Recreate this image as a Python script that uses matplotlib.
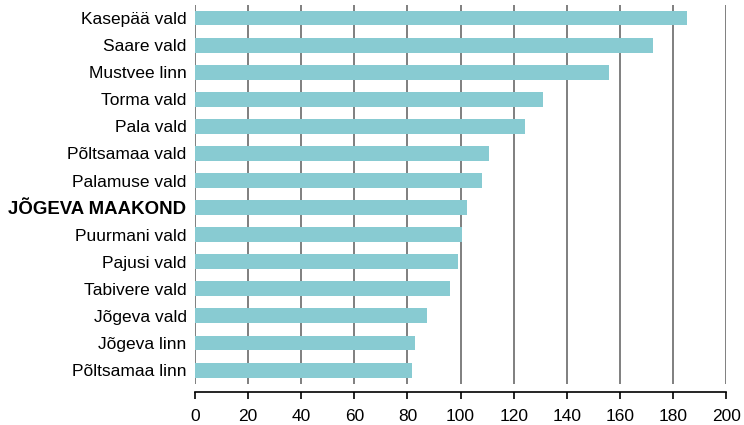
import matplotlib
matplotlib.use("Agg")
import matplotlib.pyplot as plt
import numpy as np

plt.rcParams['font.family'] = ['Liberation Sans', 'DejaVu Sans']

# data, top to bottom as in the chart
names = ["Kasepää vald", "Saare vald", "Mustvee linn", "Torma vald", "Pala vald",
         "Põltsamaa vald", "Palamuse vald", "JÕGEVA MAAKOND", "Puurmani vald",
         "Pajusi vald", "Tabivere vald", "Jõgeva vald", "Jõgeva linn", "Põltsamaa linn"]
values = [185.3, 172.6, 156.0, 131.2, 124.1, 110.9, 108.2, 102.6, 100.4,
          99.2, 96.2, 87.2, 82.7, 81.9]
xticks = list(range(0, 201, 20))

fig = plt.figure(figsize=(7.44, 4.25), dpi=100)
ax = fig.add_axes([0.262, 0.0776, 0.714, 0.9106])

y = np.arange(len(names))
ax.barh(y, values, height=0.55, color="#88CBD2", zorder=3)

ax.set_ylim(len(names) - 1 + 0.81, -0.48)
ax.set_xlim(0, 200)

# vertical grid lines, stopping a bit above the axis line
ax.vlines(xticks, -0.48, len(names) - 1 + 0.52, color="#6a6a6a", linewidth=1.2, zorder=1)

for s in ["top", "right", "left"]:
    ax.spines[s].set_visible(False)
ax.spines["bottom"].set_linewidth(1.2)

ax.set_xticks(xticks)
ax.tick_params(axis="x", length=5, width=1.2, labelsize=12.5, pad=7)
ax.set_yticks(y)
ax.set_yticklabels(names, fontsize=12.5)
ax.tick_params(axis="y", length=0, pad=6)
for lbl in ax.get_yticklabels():
    if lbl.get_text() == "JÕGEVA MAAKOND":
        lbl.set_fontweight("bold")
        lbl.set_fontsize(13.4)

fig.savefig("out.png", dpi=100)
